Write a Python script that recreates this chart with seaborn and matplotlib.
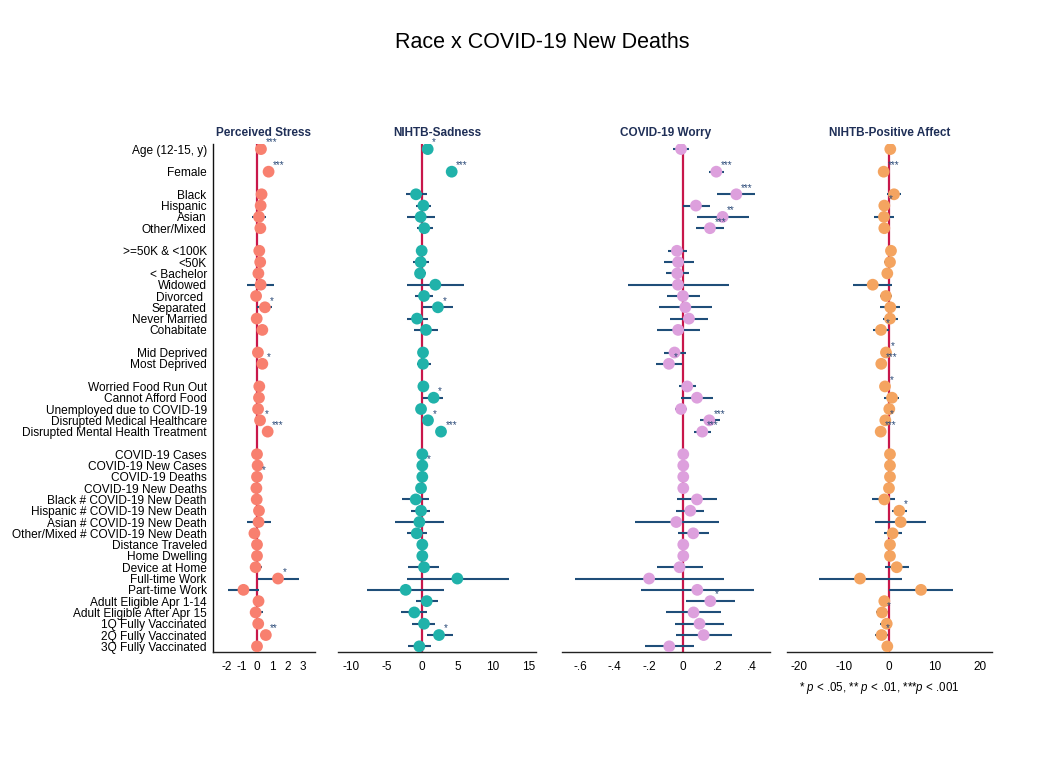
import numpy as np
import pandas as pd
import matplotlib
matplotlib.use("Agg")
import matplotlib.pyplot as plt
import seaborn as sns

# ---- predictors, grouped (a blank row separates groups) ----
groups = [
    ["Age (12-15, y)"],
    ["Female"],
    ["Black", "Hispanic", "Asian", "Other/Mixed"],
    [">=50K & <100K", "<50K", "< Bachelor", "Widowed", "Divorced ",
     "Separated", "Never Married", "Cohabitate"],
    ["Mid Deprived", "Most Deprived"],
    ["Worried Food Run Out", "Cannot Afford Food", "Unemployed due to COVID-19",
     "Disrupted Medical Healthcare", "Disrupted Mental Health Treatment"],
    ["COVID-19 Cases", "COVID-19 New Cases", "COVID-19 Deaths", "COVID-19 New Deaths",
     "Black # COVID-19 New Death", "Hispanic # COVID-19 New Death",
     "Asian # COVID-19 New Death", "Other/Mixed # COVID-19 New Death",
     "Distance Traveled", "Home Dwelling", "Device at Home", "Full-time Work",
     "Part-time Work", "Adult Eligible Apr 1-14", "Adult Eligible After Apr 15",
     "1Q Fully Vaccinated", "2Q Fully Vaccinated", "3Q Fully Vaccinated"],
]

outcomes = ["Perceived Stress", "NIHTB-Sadness", "COVID-19 Worry", "NIHTB-Positive Affect"]

# ---- Perceived Stress ----
stress_est = [0.26, 0.76, 0.30, 0.24, 0.13, 0.22, 0.15, 0.21, 0.09, 0.24, -0.06, 0.52, -0.02,
              0.35, 0.06, 0.35, 0.15, 0.13, 0.07, 0.20, 0.70, 0.00, 0.04, 0.00, -0.04, -0.02,
              0.13, 0.10, -0.17, 0.00, 0.00, -0.09, 1.38, -0.89, 0.10, -0.09, 0.08, 0.58, 0.00]
stress_lo = [0.18, 0.62, 0.15, 0.08, -0.35, 0.05, 0.02, 0.05, -0.08, -0.67, -0.25, 0.03, -0.20,
             -0.02, -0.08, 0.05, 0.00, -0.02, -0.08, 0.04, 0.45, -0.05, -0.10, 0.001, -0.06, -0.20,
             -0.10, -0.63, -0.35, -0.02, -0.02, -0.45, 0.05, -1.88, -0.20, -0.46, -0.20, 0.17, -0.20]
stress_hi = [0.34, 0.90, 0.45, 0.40, 0.62, 0.39, 0.28, 0.37, 0.26, 1.10, 0.13, 0.98, 0.16,
             0.70, 0.20, 0.65, 0.30, 0.28, 0.22, 0.36, 0.95, 0.05, 0.18, 0.02, -0.02, 0.16,
             0.36, 0.89, 0.01, 0.02, 0.02, 0.35, 2.73, 0.15, 0.48, 0.37, 0.48, 0.93, 0.20]
stress_sig = ["***", "***", "", "", "", "", "", "", "", "", "", "*", "",
              "", "", "*", "", "", "", "*", "***", "", "", "*", "", "",
              "", "", "", "", "", "", "*", "", "", "", "", "**", ""]

# ---- NIHTB-Sadness ----
sad_est = [0.76, 4.15, -0.89, 0.15, -0.23, 0.28, -0.09, -0.23, -0.32, 1.84, 0.24, 2.20, -0.75,
           0.52, 0.10, 0.10, 0.15, 1.60, -0.18, 0.80, 2.64, 0.00, 0.00, 0.00, -0.18, -0.93,
           -0.18, -0.42, -0.79, 0.00, 0.00, 0.24, 4.95, -2.35, 0.62, -1.13, 0.24, 2.36, -0.42]
sad_lo = [0.30, 3.60, -2.30, -0.89, -2.20, -0.80, -0.60, -1.36, -1.10, -2.10, -1.03, 0.15, -2.20,
          -1.17, -0.50, -0.80, -0.40, 0.15, -0.70, 0.20, 2.00, -0.30, 0.01, -0.30, -0.50, -2.90,
          -1.60, -3.80, -2.20, -0.20, -0.20, -1.97, -2.20, -7.80, -0.93, -3.00, -1.45, 0.62, -2.06]
sad_hi = [1.20, 4.70, 0.62, 1.18, 1.80, 1.47, 0.40, 0.94, 0.50, 5.90, 1.47, 4.40, 0.76,
          2.26, 0.70, 1.20, 0.70, 2.97, 0.40, 1.40, 3.30, 0.30, 0.40, 0.30, 0.20, 1.00,
          1.10, 3.10, 0.70, 0.20, 0.20, 2.30, 12.20, 3.10, 2.17, 0.70, 1.80, 4.30, 1.23]
sad_sig = ["*", "***", "", "", "", "", "", "", "", "", "", "*", "",
           "", "", "", "", "*", "", "*", "***", "", "*", "", "", "",
           "", "", "", "", "", "", "", "", "", "", "", "*", ""]

# ---- COVID-19 Worry ----
worry_est = [-0.013, 0.193, 0.310, 0.074, 0.230, 0.156, -0.037, -0.030, -0.035, -0.031, -0.002,
             0.012, 0.033, -0.030, -0.051, -0.084, 0.023, 0.080, -0.013, 0.152, 0.111, 0.0,
             0.0, 0.0, 0.0, 0.080, 0.041, -0.041, 0.058, 0.0, 0.0, -0.022, -0.200, 0.082,
             0.158, 0.060, 0.095, 0.119, -0.082]
worry_lo = [-0.060, 0.148, 0.200, -0.004, 0.080, 0.074, -0.090, -0.115, -0.100, -0.324, -0.094,
            -0.142, -0.076, -0.154, -0.110, -0.158, -0.027, -0.013, -0.047, 0.095, 0.060, -0.01,
            -0.01, -0.01, -0.01, -0.035, -0.045, -0.281, -0.030, -0.01, -0.01, -0.154, -0.632,
            -0.246, 0.018, -0.100, -0.047, -0.043, -0.226]
worry_hi = [0.035, 0.240, 0.417, 0.154, 0.384, 0.238, 0.022, 0.063, 0.033, 0.267, 0.095,
            0.168, 0.142, 0.100, 0.013, -0.008, 0.074, 0.174, 0.022, 0.216, 0.160, 0.01,
            0.01, 0.01, 0.01, 0.197, 0.121, 0.206, 0.152, 0.01, 0.01, 0.115, 0.236,
            0.411, 0.300, 0.222, 0.236, 0.282, 0.063]
worry_sig = ["", "***", "***", "", "**", "***", "", "", "", "", "", "", "",
             "", "", "*", "", "", "", "***", "***", "", "", "", "", "",
             "", "", "", "", "", "", "", "", "*", "", "", "", ""]

# ---- NIHTB-Positive Affect ----
pos_est = [0.22, -1.24, 1.04, -1.10, -1.17, -1.10, 0.37, 0.15, -0.44, -3.66, -0.73, 0.22, 0.15,
           -1.84, -0.73, -1.77, -0.95, 0.60, 0.00, -0.88, -1.90, 0.15, 0.15, 0.15, -0.07, -1.10,
           2.20, 2.52, 0.74, 0.15, 0.15, 1.63, -6.47, 7.00, -1.10, -1.60, -0.57, -1.70, -0.44]
pos_lo = [-0.30, -1.80, -0.57, -1.60, -3.40, -1.90, -0.20, -1.10, -1.00, -8.10, -2.05, -2.05, -1.30,
          -3.50, -1.30, -2.40, -1.50, -1.10, -0.50, -2.00, -2.50, -0.20, -0.20, -0.20, -0.40, -3.75,
          0.53, -3.10, -1.24, -0.20, -0.20, -1.00, -15.50, -0.07, -2.30, -3.00, -2.05, -3.20, -1.70]
pos_hi = [0.70, -0.70, 2.50, -0.60, 1.04, -0.30, 0.90, 1.30, 0.20, 0.66, 0.66, 2.36, 1.85,
          -0.10, -0.20, -1.10, -0.30, 2.20, 0.50, -0.10, -1.30, 0.50, 0.50, 0.50, 0.30, 1.26,
          3.90, 8.00, 2.74, 0.50, 0.50, 4.40, 2.74, 14.00, 0.15, -0.20, 0.66, -0.30, 0.88]
pos_sig = ["", "***", "", "*", "", "", "", "", "", "", "", "", "",
           "*", "*", "***", "*", "", "", "*", "***", "", "", "", "", "",
           "*", "", "", "", "", "", "", "", "", "*", "", "*", ""]

point_colors = ["#F8806F", "#20B2AA", "#DDA0DD", "#F4A460"]
x_ticks = [[-2, -1, 0, 1, 2, 3],
           [-10, -5, 0, 5, 10, 15],
           [-0.6, -0.4, -0.2, 0, 0.2, 0.4],
           [-20, -10, 0, 10, 20]]
x_ticklabels = [["-2", "-1", "0", "1", "2", "3"],
                ["-10", "-5", "0", "5", "10", "15"],
                ["-.6", "-.4", "-.2", "0", ".2", ".4"],
                ["-20", "-10", "0", "10", "20"]]

# ---- row layout: one slot per predictor, one empty slot between groups ----
names, rows = [], []
slot = 0
for gi, g in enumerate(groups):
    if gi > 0:
        slot += 1
    for n in g:
        names.append(n)
        rows.append(slot)
        slot += 1
last_row = rows[-1]

panels = [
    (stress_est, stress_lo, stress_hi, stress_sig),
    (sad_est, sad_lo, sad_hi, sad_sig),
    (worry_est, worry_lo, worry_hi, worry_sig),
    (pos_est, pos_lo, pos_hi, pos_sig),
]

sns.set_theme(style="white")
plt.rcParams["font.family"] = ["Liberation Sans", "DejaVu Sans"]
plt.rcParams["axes.unicode_minus"] = False
plt.rcParams["mathtext.fontset"] = "custom"
plt.rcParams["mathtext.it"] = "Liberation Sans:italic"
plt.rcParams["mathtext.rm"] = "Liberation Sans"

W, H = 1055, 772
fig = plt.figure(figsize=(W / 100, H / 100), dpi=100)
fig.patch.set_facecolor("white")

# axes extents in pixels: (left, right) and the x-range each panel spans
boxes = [(213, 315), (338, 536), (562, 770), (787, 992)]
xlims = [(-2.889, 3.808), (-11.91, 16.06), (-0.709, 0.507), (-22.58, 22.67)]
top_px, bot_px = 144, 652

title_color = "#1F2F57"
bar_color = "#1F4E79"
star_color = "#2B4A78"
zero_color = "#C8174A"

for i, (est, lo, hi, sig) in enumerate(panels):
    l, r = boxes[i]
    ax = fig.add_axes([l / W, 1 - bot_px / H, (r - l) / W, (bot_px - top_px) / H])
    df = pd.DataFrame({"term": names, "row": rows, "est": est, "lo": lo, "hi": hi, "sig": sig})

    ax.axvline(0, color=zero_color, lw=1.6, zorder=1)
    ax.hlines(df["row"], df["lo"], df["hi"], color=bar_color, lw=1.5, zorder=2)
    sns.scatterplot(data=df, x="est", y="row", ax=ax, color=point_colors[i],
                    s=72, edgecolor="none", linewidth=0, zorder=3, legend=False)
    for _, rw in df[df["sig"] != ""].iterrows():
        ax.annotate(rw["sig"], (rw["est"], rw["row"]), xytext=(3.2, 2.6),
                    textcoords="offset points", ha="left", va="baseline",
                    fontsize=7, color=star_color, zorder=4)

    ax.set_xlim(*xlims[i])
    ax.set_ylim(last_row + 0.5, -0.45)
    ax.set_xticks(x_ticks[i])
    ax.set_xticklabels(x_ticklabels[i], fontsize=8.5, color="black")
    ax.tick_params(axis="x", length=0, pad=6.5)
    ax.set_xlabel("")
    ax.set_ylabel("")
    for s in ["top", "right"]:
        ax.spines[s].set_visible(False)
    ax.spines["bottom"].set_color("#222222")
    ax.spines["bottom"].set_linewidth(1.0)
    if i == 0:
        ax.set_yticks(rows)
        ax.set_yticklabels(names, fontsize=8.6, color="black")
        ax.tick_params(axis="y", length=0, pad=4.5)
        ax.spines["left"].set_color("#111111")
        ax.spines["left"].set_linewidth(1.0)
    else:
        ax.set_yticks([])
        ax.spines["left"].set_visible(False)
    ax.set_title(outcomes[i], fontsize=8.5, fontweight="bold", color=title_color, pad=5.5)
    ax.patch.set_alpha(0)

fig.text(542.5 / W, 1 - 43 / H, "Race x COVID-19 New Deaths", ha="center", va="center",
         fontsize=15.5, color="black")
fig.text(879 / W, 1 - 688 / H,
         r"* $\it{p}$ < .05, ** $\it{p}$ < .01, ***$\it{p}$ < .001",
         ha="center", va="center", fontsize=8.3, color="black")

fig.savefig("out.png", dpi=100, facecolor="white")
